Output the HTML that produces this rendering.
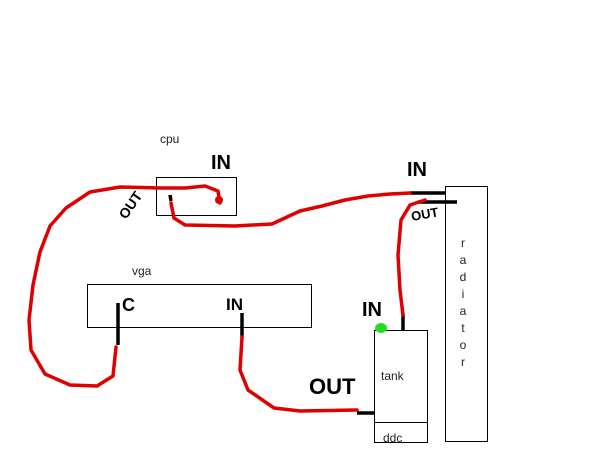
<!DOCTYPE html>
<html><head><meta charset="utf-8"><style>
html,body{margin:0;padding:0;background:#fff;}
svg{display:block;}
.t{font-family:"Liberation Sans",sans-serif;font-size:12px;fill:#222;}
.h{font-family:"Liberation Sans",sans-serif;font-weight:900;fill:#000;}
</style></head><body>
<svg width="600" height="450" viewBox="0 0 600 450" xmlns="http://www.w3.org/2000/svg">
<rect width="600" height="450" fill="#fff"/>
<g fill="none" stroke="#000" stroke-width="1">
<rect x="156.5" y="177.5" width="80" height="38"/>
<rect x="87.5" y="284.5" width="224" height="43"/>
<rect x="445.5" y="186.5" width="42" height="255"/>
<rect x="374.5" y="330.5" width="53" height="112"/>
<line x1="374" y1="422.5" x2="427" y2="422.5"/>
</g>
<text class="t" x="160" y="143">cpu</text>
<text class="t" x="132" y="275">vga</text>
<text class="t" x="381" y="380">tank</text>
<text class="t" x="383" y="442">ddc</text>
<g class="t" text-anchor="middle">
<text x="463" y="247">r</text><text x="463" y="264">a</text><text x="463" y="281">d</text><text x="463" y="298">i</text>
<text x="463" y="315">a</text><text x="463" y="332">t</text><text x="463" y="349">o</text><text x="463" y="366">r</text>
</g>
<!-- black stubs -->
<g stroke="#000" stroke-width="3.5" stroke-linecap="butt">
<line x1="410" y1="193" x2="446" y2="193"/>
<line x1="418" y1="202" x2="457" y2="202"/>
<line x1="403" y1="314" x2="403" y2="330"/>
<line x1="357" y1="413" x2="374" y2="413"/>
<line x1="118" y1="303" x2="118" y2="345"/>
<line x1="242" y1="313" x2="242" y2="337"/>
<line x1="170" y1="195" x2="171" y2="201"/>
</g>
<!-- red hoses -->
<g fill="none" stroke="#e00000" stroke-width="3.5" stroke-linecap="round" stroke-linejoin="round">
<path d="M410,193 L390,194 L368,196 L345,200 L322,206 L300,211 L272,224 L235,226 L185,225 L174,218 L171,203"/>
<path d="M220,203 L218,191 L205,186 L185,188 L160,188 L120,187 L90,192 L66,208 L50,226 L40,252 L33,285 L29,320 L31,350 L45,374 L70,385 L97,386 L113,376 L116,347"/>
<path d="M242,337 L240,370 L248,390 L274,408 L300,411 L357,410"/>
<path d="M403,315 L400,290 L398,255 L401,220 L410,205 L425,200"/>
</g>
<circle cx="219" cy="200" r="4" fill="#e00000"/>
<ellipse cx="381" cy="328" rx="6" ry="5" fill="#22dd22"/>
<!-- handwritten labels -->
<text class="h" x="211" y="169" font-size="20">IN</text>
<text class="h" x="407" y="176" font-size="20">IN</text>
<text class="h" x="226" y="310" font-size="17">IN</text>
<text class="h" x="362" y="316" font-size="20">IN</text>
<text class="h" x="122" y="311" font-size="18">C</text>
<text class="h" x="309" y="394" font-size="22">OUT</text>
<text class="h" font-size="14" transform="translate(126,220) rotate(-55)">OUT</text>
<text class="h" font-size="13" transform="translate(412,221) rotate(-10)">OUT</text>
</svg>
</body></html>
